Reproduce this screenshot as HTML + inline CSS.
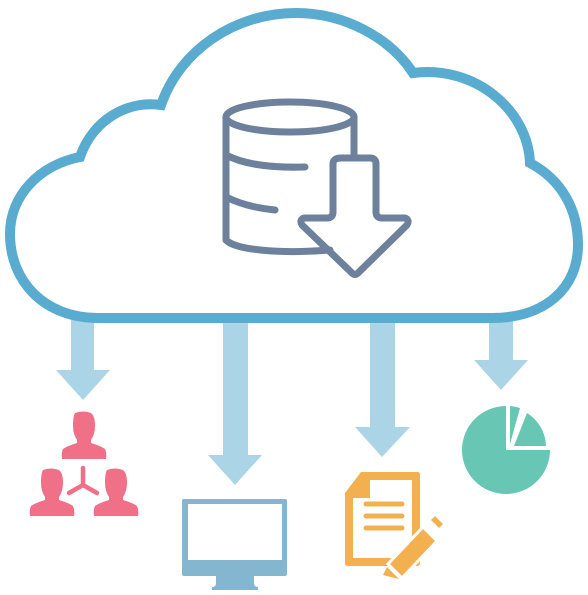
<!DOCTYPE html>
<html><head><style>html,body{margin:0;padding:0;background:#fff}svg{display:block}</style></head>
<body>
<svg width="588" height="595" viewBox="0 0 588 595" xmlns="http://www.w3.org/2000/svg">
<g fill="#abd4e6">
<path d="M71 318 H94 V370 H110 L83 400 L56 370 H71 Z"/>
<path d="M223 318 H248 V455 H262 L235 485 L208 455 H223 Z"/>
<path d="M370 318 H395 V427 H410 L382 457 L355 427 H370 Z"/>
<path d="M489 318 H513 V360 H528 L501 390 L474 360 H489 Z"/>
</g>
<path d="M98 318 C45 318 10 282 10 234 C10 195 40 165 80 157 C92 122 125 100 161 105 C180 50 235 13 296 13 C345 13 390 38 413 73 C475 65 528 110 530 163 C562 180 578 210 578 245 C578 288 545 318 492 318 Z" fill="#fff" stroke="#5aabd0" stroke-width="10"/>
<g fill="none" stroke="#6e819c" stroke-width="7" stroke-linecap="round" stroke-linejoin="round">
<ellipse cx="290" cy="117" rx="64" ry="15"/>
<path d="M226 117 V240 C235 250 280 254 330 250"/>
<path d="M354 117 V158"/>
<path d="M226 155 C245 165 275 168 305 167"/>
<path d="M226 197 C240 204 255 208 275 210"/>
<path d="M341 158 H370 Q376 158 376 164 V212 Q376 218 382 218 H405 Q410 220 407 225 L358 273 Q355 276 352 273 L302 225 Q299 220 304 218 H327 Q333 218 333 212 V164 Q333 158 341 158 Z"/>
</g>
<g fill="#f07088">
<path d="M75 413 q8 -3 16 0 q4 3 4 13 q0 8 -4 14 v3 q10 3 14 6 q2 4 1 10 h-44 q-1 -6 1 -10 q4 -3 14 -6 v-3 q-4 -6 -4 -14 q0 -10 2 -13 z"/>
<path d="M43 470 q8 -3 16 0 q4 3 4 13 q0 8 -4 14 v3 q10 3 14 6 q2 4 1 10 h-44 q-1 -6 1 -10 q4 -3 14 -6 v-3 q-4 -6 -4 -14 q0 -10 2 -13 z"/>
<path d="M107 470 q8 -3 16 0 q4 3 4 13 q0 8 -4 14 v3 q10 3 14 6 q2 4 1 10 h-44 q-1 -6 1 -10 q4 -3 14 -6 v-3 q-4 -6 -4 -14 q0 -10 2 -13 z"/>
</g>
<g stroke="#f07088" stroke-width="4.5" stroke-linecap="round" fill="none">
<path d="M83 468 V485 L69 493 M83 485 L97 493"/>
</g>
<g fill="#85b6d0">
<rect x="182" y="499" width="105" height="77" rx="2"/>
<path d="M216 574 H254 V583 Q254 587 258 587 V590 H212 V587 Q216 587 216 583 Z"/>
</g>
<rect x="188" y="504" width="94" height="56" fill="#fff"/>
<path d="M361 472 H418 Q420 472 420 475 V563 Q420 566 417 566 H348 Q345 566 345 563 V493 Z" fill="#f2b04f"/>
<path d="M370 480 H412 V558 H353 V498 H370 Z" fill="#fff"/>
<g stroke="#f2b04f" stroke-width="5" stroke-linecap="round">
<line x1="366" y1="504" x2="402" y2="504"/>
<line x1="366" y1="516" x2="402" y2="516"/>
<line x1="366" y1="528" x2="402" y2="528"/>
</g>
<g fill="#f2b04f" stroke="#fff" stroke-width="3">
<path d="M423 527 L437 541 L402 578 L388 564 Z"/>
<path d="M429 520 L435 514 L445 524 L439 530 Z"/>
</g>
<path d="M387 567 L399 579 L383 575 Z" fill="#f2b04f"/>
<g fill="#67c6b4">
<path d="M506 450 L550 450 A44 44 0 1 1 506 406 Z"/>
<path d="M510 444 L510 406 A44 44 0 0 1 520 408 Z"/>
<path d="M514 446 L546 446 A40 40 0 0 0 527 413 Z"/>
</g>
</svg>
</body></html>
